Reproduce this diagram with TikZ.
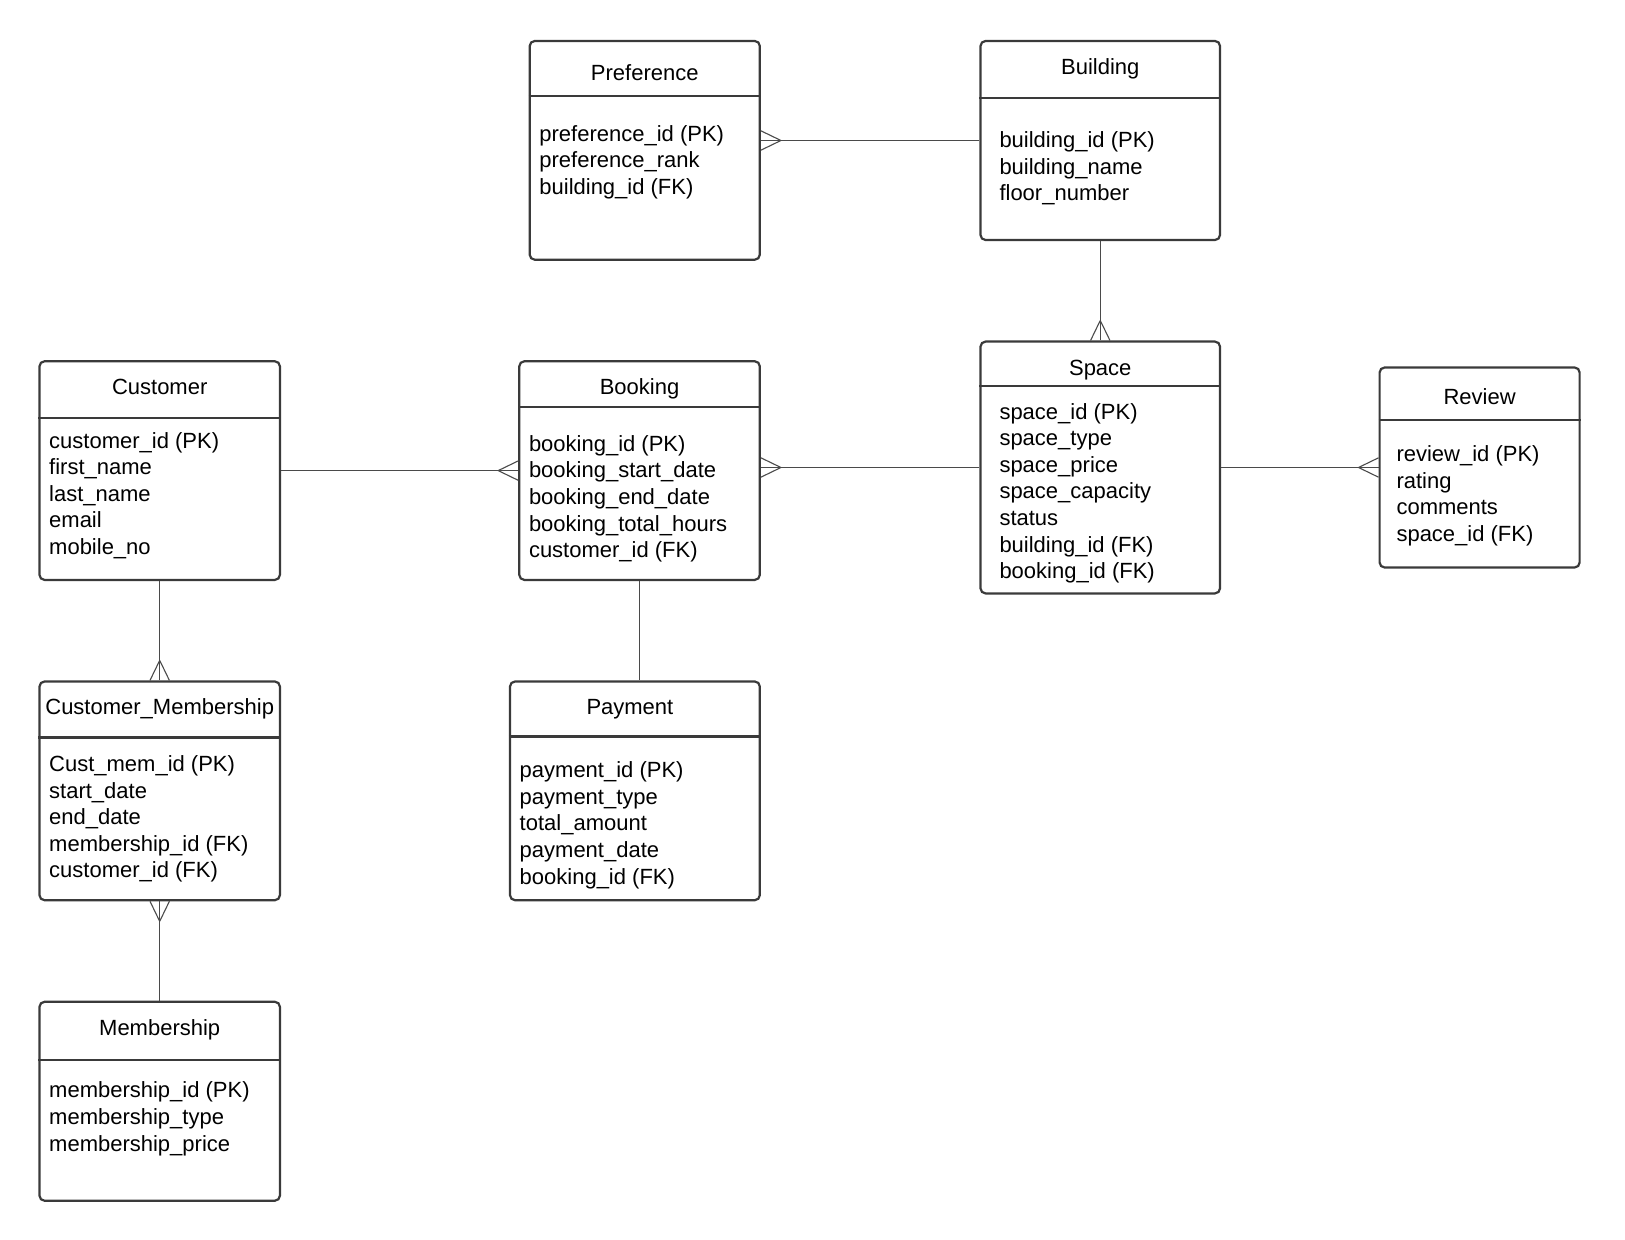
\documentclass[tikz,border=0pt]{standalone}
\usepackage{fontspec}
\setmainfont{Liberation Sans}
\usetikzlibrary{calc}
\usetikzlibrary{decorations.markings}
\definecolor{boxgray}{HTML}{3A3A3A}
\definecolor{linegray}{HTML}{4A4A4A}
\tikzset{
  % table box
  entity/.style = {
    draw = boxgray,
    line width = 1.1pt,
    rounded corners = 2.5pt,
    rectangle,
    anchor = north west,
    inner sep = 0
  },
  title/.style = {
    font = \fontsize{11}{13.3}\selectfont,
    text height = 8pt,
    text depth = 2.5pt,
    inner sep = 0
  },
  field/.style = {
    font = \fontsize{11}{13.3}\selectfont,
    anchor = base west,
    inner sep = 0
  },
  rule/.style = {
    draw = boxgray,
    line width = 1.1pt
  },
  % plain relation line
  link/.style = {
    draw = linegray,
    line width = 0.55pt
  },
  % relation line with a crow's foot at its end
  many/.style = {
    link,
    postaction = {
      decorate,
      decoration = {
        markings,
        mark = at position 1 with {
          \draw[linegray, line width = 0.55pt]
            (-10pt,0) -- (0,4.85pt) (-10pt,0) -- (0,-4.85pt);
        }
      }
    }
  }
}

\begin{document}
\begin{tikzpicture}[x=0.5pt, y=-0.5pt]
    \useasboundingbox (0,0) rectangle (1625,1240);

    % Preference
    \node[entity, minimum width=115.05pt, minimum height=109.35pt] (pref) at (528.6,39.9) {};
    \draw[rule] ([yshift=-28pt]pref.north west) -- ([yshift=-28pt]pref.north east);
    \node[title] (pref-t) at ([yshift=-17.5pt]pref.north) {Preference};
    \foreach \f [count=\i from 0] in {preference\_id (PK), preference\_rank, building\_id (FK)}
      \node[field] (pref-\i) at ($(pref.north west)+(5.2pt,-50.7pt-\i*13.3pt)$) {\f};

    % Building
    \node[entity, minimum width=119.75pt, minimum height=99.5pt] (bld) at (979.4,39.9) {};
    \draw[rule] ([yshift=-29pt]bld.north west) -- ([yshift=-29pt]bld.north east);
    \node[title] (bld-t) at ([yshift=-14.5pt]bld.north) {Building};
    \foreach \f [count=\i from 0] in {building\_id (PK), building\_name, floor\_number}
      \node[field] (bld-\i) at ($(bld.north west)+(9.85pt,-53.8pt-\i*13.3pt)$) {\f};

    % Customer
    \node[entity, minimum width=120.2pt, minimum height=109.3pt] (cust) at (38.4,360.2) {};
    \draw[rule] ([yshift=-29pt]cust.north west) -- ([yshift=-29pt]cust.north east);
    \node[title] (cust-t) at ([yshift=-14.5pt]cust.north) {Customer};
    \foreach \f [count=\i from 0] in {customer\_id (PK), first\_name, last\_name, email, mobile\_no}
      \node[field] (cust-\i) at ($(cust.north west)+(5.2pt,-43.9pt-\i*13.3pt)$) {\f};

    % Booking
    \node[entity, minimum width=120.25pt, minimum height=109.3pt] (book) at (518.2,360.2) {};
    \draw[rule] ([yshift=-23.3pt]book.north west) -- ([yshift=-23.3pt]book.north east);
    \node[title] (book-t) at ([yshift=-14.5pt]book.north) {Booking};
    \foreach \f [count=\i from 0] in {booking\_id (PK), booking\_start\_date, booking\_end\_date, booking\_total\_hours, customer\_id (FK)}
      \node[field] (book-\i) at ($(book.north west)+(5.2pt,-45.5pt-\i*13.3pt)$) {\f};

    % Space
    \node[entity, minimum width=119.75pt, minimum height=125.9pt] (space) at (979.4,340.5) {};
    \draw[rule] ([yshift=-22.8pt]space.north west) -- ([yshift=-22.8pt]space.north east);
    \node[title] (space-t) at ([yshift=-14.9pt]space.north) {Space};
    \foreach \f [count=\i from 0] in {space\_id (PK), space\_type, space\_price, space\_capacity, status, building\_id (FK), booking\_id (FK)}
      \node[field] (space-\i) at ($(space.north west)+(9.85pt,-39.3pt-\i*13.3pt)$) {\f};

    % Review
    \node[entity, minimum width=100pt, minimum height=100pt] (rev) at (1378.5,366.4) {};
    \draw[rule] ([yshift=-27pt]rev.north west) -- ([yshift=-27pt]rev.north east);
    \node[title] (rev-t) at ([yshift=-16.5pt]rev.north) {Review};
    \foreach \f [count=\i from 0] in {review\_id (PK), rating, comments, space\_id (FK)}
      \node[field] (rev-\i) at ($(rev.north west)+(8.8pt,-47.5pt-\i*13.3pt)$) {\f};

    % Customer_Membership
    \node[entity, minimum width=120.2pt, minimum height=109.35pt] (cm) at (38.4,680.4) {};
    \draw[rule] ([yshift=-28.5pt]cm.north west) -- ([yshift=-28.5pt]cm.north east);
    \node[title] (cm-t) at ([yshift=-14.5pt]cm.north) {Customer\_Membership};
    \foreach \f [count=\i from 0] in {Cust\_mem\_id (PK), start\_date, end\_date, membership\_id (FK), customer\_id (FK)}
      \node[field] (cm-\i) at ($(cm.north west)+(5.2pt,-45.5pt-\i*13.3pt)$) {\f};

    % Payment
    \node[entity, minimum width=124.9pt, minimum height=109.35pt] (pay) at (508.9,680.4) {};
    \draw[rule] ([yshift=-28pt]pay.north west) -- ([yshift=-28pt]pay.north east);
    \node[title] (pay-t) at ([xshift=-2.5pt,yshift=-14.5pt]pay.north) {Payment};
    \foreach \f [count=\i from 0] in {payment\_id (PK), payment\_type, total\_amount, payment\_date, booking\_id (FK)}
      \node[field] (pay-\i) at ($(pay.north west)+(5.2pt,-48.6pt-\i*13.3pt)$) {\f};

    % Membership
    \node[entity, minimum width=120.2pt, minimum height=99.45pt] (mem) at (38.4,1000.7) {};
    \draw[rule] ([yshift=-29.5pt]mem.north west) -- ([yshift=-29.5pt]mem.north east);
    \node[title] (mem-t) at ([yshift=-14.5pt]mem.north) {Membership};
    \foreach \f [count=\i from 0] in {membership\_id (PK), membership\_type, membership\_price}
      \node[field] (mem-\i) at ($(mem.north west)+(5.2pt,-48.6pt-\i*13.3pt)$) {\f};

    % relations
    \draw[many] (bld.west) -- (bld.west -| pref.east);
    \draw[many] (bld.south) -- (space.north);
    \draw[many] (cust.east) -- (book.west);
    \draw[many] (space.west) -- (space.west -| book.east);
    \draw[many] (space.east) -- (rev.west);
    \draw[many] (cust.south) -- (cm.north);
    \draw[many] (mem.north) -- (cm.south);
    \draw[link] (book.south) -- (book.south |- pay.north);
\end{tikzpicture}
\end{document}
